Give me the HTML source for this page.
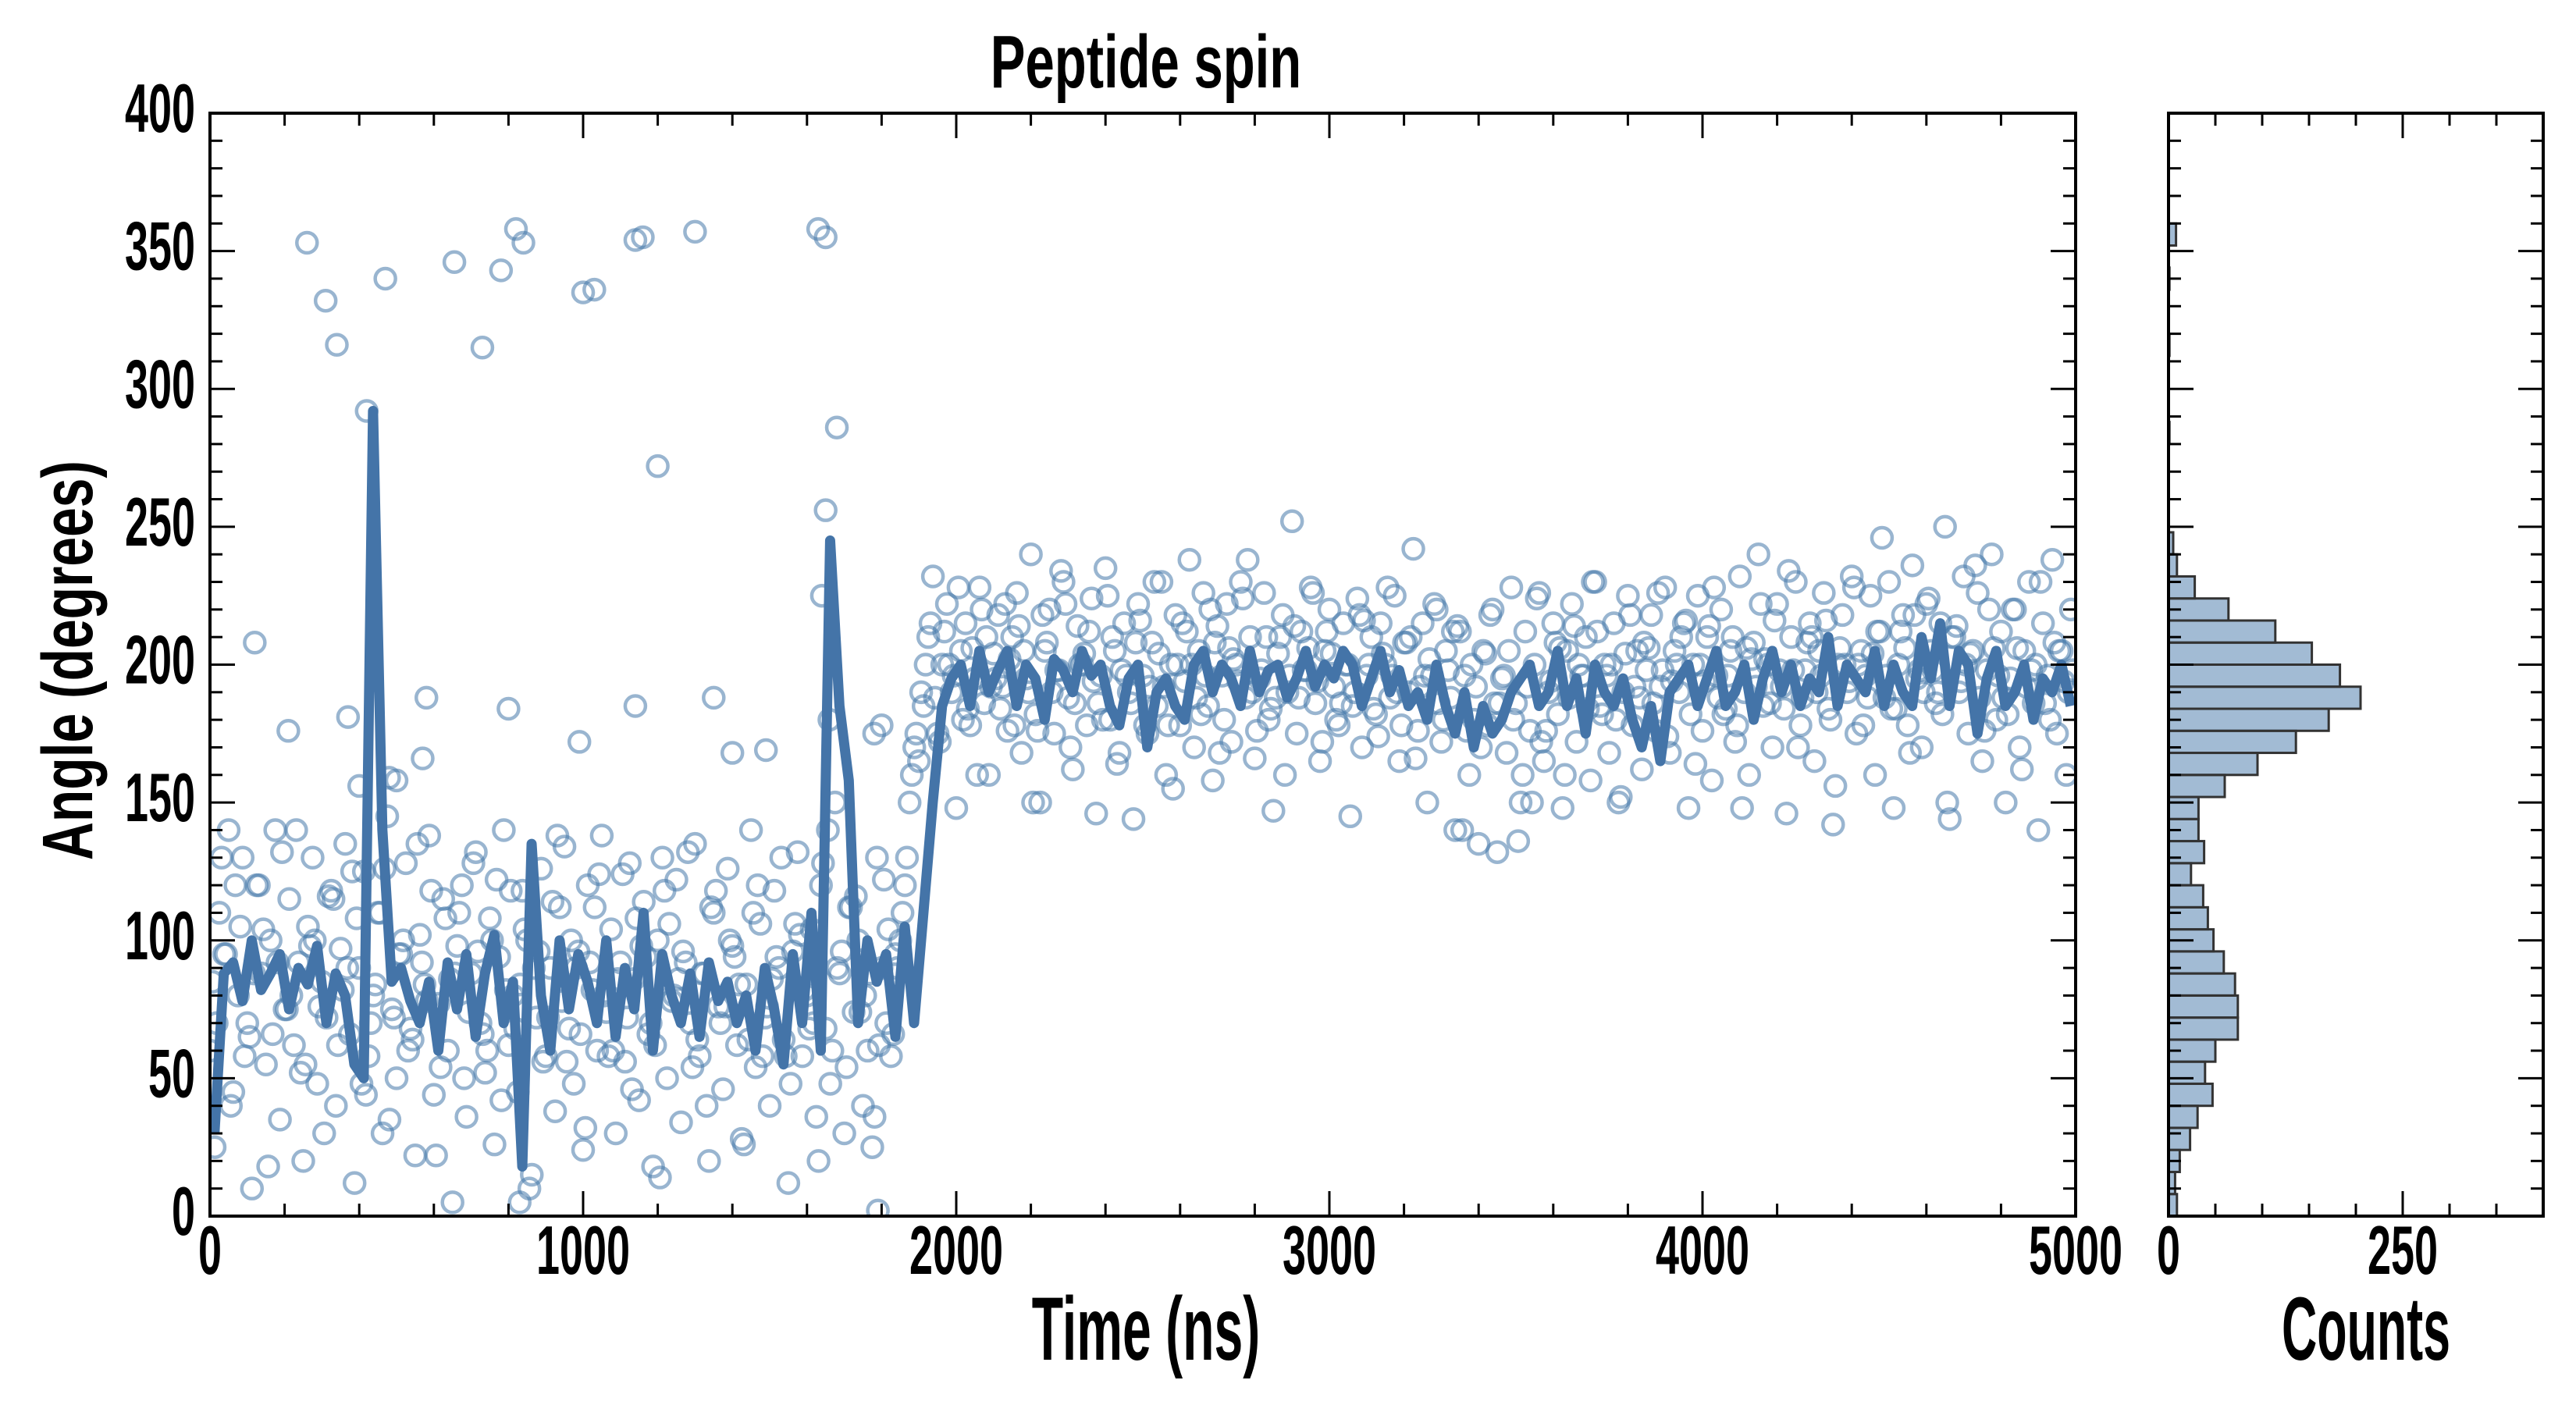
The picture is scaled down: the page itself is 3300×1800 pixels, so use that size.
<!DOCTYPE html>
<html><head><meta charset="utf-8">
<style>
html,body{margin:0;padding:0;background:#fff;}
svg{display:block;}
text{font-family:"Liberation Sans",sans-serif;font-weight:bold;fill:#000;}
</style></head>
<body>
<svg id="chart" width="3300" height="1800" viewBox="0 0 3300 1800" xmlns="http://www.w3.org/2000/svg">
<defs><clipPath id="plotclip"><rect x="269" y="145" width="2390" height="1413"/></clipPath></defs>
<g id="main"></g>
<g id="hist"></g>
</svg>
<script>
// ---- data ----
const lineStep = 25;
const lineValues = [
30,88,92,78,100,82,88,95,75,90,84,98,70,88,80,55,50,292,140,85,
90,78,70,85,60,92,75,95,65,88,102,70,85,18,135,80,60,100,75,95,
85,70,100,65,90,75,110,60,95,80,70,88,65,92,78,85,70,80,60,90,
75,55,95,70,110,60,245,185,158,70,100,85,95,65,105,70,110,150,185,195,
200,185,205,190,198,205,185,200,195,180,202,198,190,205,196,200,185,178,195,200,
170,190,195,185,180,200,205,190,200,195,185,205,190,198,200,188,195,205,192,200,
195,205,200,185,195,205,190,198,185,190,180,200,185,175,190,170,185,175,180,190,
195,200,185,190,205,185,195,175,200,190,185,195,180,170,185,165,190,195,200,185,
195,205,185,190,200,180,195,205,190,200,185,195,190,210,185,200,195,190,205,185,
200,190,185,210,195,215,185,205,200,175,195,205,185,190,200,180,195,190,200,185];
const scatterAStep = 12.5;
const scatterA = [
60,25,110,95,140,45,80,130,70,10,120,88,55,100,140,35,75,115,62,92,
20,105,130,48,85,72,118,40,97,135,66,12,90,125,58,80,110,30,145,75,
50,95,128,68,22,102,84,138,44,77,115,60,5,98,120,36,88,132,70,52,
108,26,94,140,62,80,45,118,100,15,72,126,58,90,38,112,134,68,48,96,
24,120,82,60,138,74,104,30,92,56,128,86,42,114,66,18,100,130,50,78,
122,34,92,70,135,58,88,20,110,76,46,126,98,62,28,84,140,54,106,72,
40,118,90,64,12,96,132,58,80,104,36,120,68,48,150,88,30,112,74,100,
40,60,25,130,90,70,58,95,100,120,150,170,
165,185,210,232,175,200,222,190,148,205,215,178,195,228,186,160,204,218,192,176,
210,226,168,195,240,182,150,205,220,175,198,230,188,162,214,200,178,224,146,196,
235,180,205,168,215,190,144,222,196,175,208,185,230,160,200,218,178,194,238,170,
205,226,185,158,214,196,222,172,200,230,188,210,166,195,226,180,147,204,218,190,
252,175,212,198,228,186,165,205,220,192,178,215,200,185,224,170,196,210,182,215,
200,188,225,165,208,190,242,176,215,150,196,220,172,205,188,140,212,196,160,180,
135,205,178,220,132,195,168,228,186,150,212,176,200,226,165,190,215,182,148,205,
222,172,196,210,158,230,185,200,168,215,150,190,225,178,205,162,198,218,176,192,
228,168,205,190,215,148,200,225,176,210,158,196,220,184,205,172,232,190,160,208,
240,185,200,170,222,192,146,210,230,178,198,215,165,205,226,184,142,200,218,190,
232,175,205,196,225,160,212,188,230,148,200,218,178,236,195,170,222,205,186,215,
250,144,210,190,232,175,205,226,165,198,240,180,212,150,195,220,170,205,230,186,
140,215,196,238,175,205,160,220];
const scatterBStep = 25;
const scatterBOffset = 6;
const scatterB = [
85,130,40,105,65,120,18,92,75,140,55,100,30,115,82,125,48,70,110,35,
95,60,135,78,22,108,88,50,128,66,100,42,118,84,10,96,72,138,56,90,
32,112,80,60,124,46,98,70,14,106,86,132,64,40,118,76,94,26,110,58,
86,130,48,102,68,20,140,90,54,116,80,36,122,66,110,160,
190,215,172,200,228,184,160,210,195,222,178,205,150,218,190,234,170,200,212,186,
225,164,196,208,178,230,192,155,215,200,182,220,168,206,194,238,176,210,188,160,
214,198,226,172,204,186,145,218,200,174,228,190,208,166,196,222,180,212,140,200,
170,218,186,205,136,192,224,176,208,160,214,196,230,182,200,152,218,188,206,226,
174,200,216,164,194,228,182,210,148,202,222,186,198,234,170,208,190,216,156,200,
228,178,204,246,184,212,168,198,224,190,150,214,200,236,176,206,188,220,162,198,
230,180,205,190];
const scatterCStep = 25;
const scatterCOffset = 18;
const scatterC = [
70,95,120,58,88,104,66,132,80,52,98,76,116,62,90,108,44,84,126,72,
100,64,92,118,54,86,110,74,96,60,122,82,68,104,90,56,114,78,100,66,
92,124,58,86,72,108,94,62,118,80,96,54,88,112,70,100,84,64,120,76,
94,58,106,82,70,128,60,96,112,74,88,62,104,90,130,175,
200,188,212,196,180,206,220,192,184,202,214,190,176,208,198,222,186,204,194,180,
210,198,186,216,192,204,178,200,212,188,196,208,180,202,224,190,198,184,210,196,
188,206,194,212,180,200,190,216,184,204,196,178,210,192,202,186,198,214,176,192,
204,186,196,180,160,150,172,194,206,188,200,184,212,196,180,204,192,208,186,198,
194,210,182,200,214,188,196,178,206,192,202,216,184,198,188,210,196,180,206,194,
200,188,212,196,184,206,218,190,198,182,210,194,204,188,220,196,182,206,192,200,
186,208,194,198];
const outlierTimes = [260,310,340,470,655,730,780,820,840,1000,1030,1140,1160,1300,1630,1650,1200,1680,1650,1640,420,120,210,370,580,570,800,990,1140,1350,1400,1490,1660,1780,1800,400,480,500,830,1790];
const outlierValues = [353,332,316,340,346,315,343,358,353,335,336,354,355,357,358,355,272,286,256,225,292,208,176,181,188,166,184,172,185,188,168,169,180,175,178,156,159,158,5,2];
const histBinWidth = 8;
const histCounts = [9,7,12,23,31,47,39,50,74,74,71,59,48,42,37,24,38,32,32,60,95,136,171,205,183,153,114,64,28,9,5,0,0,0,0,1,0,0,0,1,0,0,1,0,8];
const xTicks = [0,1000,2000,3000,4000,5000];
const yTicks = [0,50,100,150,200,250,300,350,400];
const countTicks = [0,250];

// ---- scales ----
const PL=269, PR=2659, PT=145, PB=1558;
const HL=2778, HR=3258;
const xS = t => PL + (t/5000)*(PR-PL);
const yS = v => PB - (v/400)*(PB-PT);
const cS = c => HL + (c/400)*(HR-HL);
const NS="http://www.w3.org/2000/svg";
function mk(tag, attrs, parent){const e=document.createElementNS(NS,tag);for(const k in attrs)e.setAttribute(k,attrs[k]);parent.appendChild(e);return e;}
const main=document.getElementById('main'), hist=document.getElementById('hist');

// scatter
const sg=mk('g',{'clip-path':'url(#plotclip)'},main);


function dot(t,v){
  const c=mk('circle',{cx:xS(t),cy:yS(v),r:13,fill:'none',stroke:'rgba(70,120,170,0.55)','stroke-width':4.5},sg);
  
  
}
scatterA.forEach((v,i)=>dot(i*scatterAStep,v));
scatterB.forEach((v,i)=>dot(i*scatterBStep+scatterBOffset,v));
scatterC.forEach((v,i)=>dot(i*scatterCStep+scatterCOffset,v));
outlierValues.forEach((v,i)=>dot(outlierTimes[i],v));

// line
const pts=lineValues.map((v,i)=>xS(i*lineStep+12)+','+yS(v)).join(' ');
const pl=mk('polyline',{points:pts,fill:'none',stroke:'#4474a8','stroke-width':13,'stroke-linejoin':'round'},main);



// main ticks
const tg=mk('g',{stroke:'#000','stroke-width':3},main);
for(let t=0;t<=5000;t+=200){const L=(t%1000===0)?32:16;const x=xS(t);
  mk('line',{x1:x,y1:PB,x2:x,y2:PB-L},tg);mk('line',{x1:x,y1:PT,x2:x,y2:PT+L},tg);}
for(let v=0;v<=400;v+=10){const L=(v%50===0)?32:16;const y=yS(v);
  mk('line',{x1:PL,y1:y,x2:PL+L,y2:y},tg);mk('line',{x1:PR,y1:y,x2:PR-L,y2:y},tg);}
const fr=mk('rect',{x:PL,y:PT,width:PR-PL,height:PB-PT,fill:'none',stroke:'#000','stroke-width':4},main);



function lbl(str,x,y,anchor,perChar,size,parent,name){
  const t=mk('text',{x:x,y:y,'text-anchor':anchor,'font-size':size,textLength:str.length*perChar,lengthAdjust:'spacingAndGlyphs'},parent);
  t.textContent=str;
  
  
  return t;
}
xTicks.forEach(t=>lbl(String(t),xS(t),1632,'middle',30,88,main,'x-tick-label'));
yTicks.forEach(v=>lbl(String(v),250,yS(v)+24,'end',30,88,main,'y-tick-label'));
lbl('Time (ns)',1468,1742,'middle',32.5,115,main,'x-axis-title');
lbl('Peptide spin',1468,112,'middle',33.2,96,main,'chart-title');
const yt=mk('text',{x:0,y:0,'text-anchor':'middle','font-size':92,textLength:512,lengthAdjust:'spacingAndGlyphs',transform:'translate(118,846) rotate(-90)'},main);
yt.textContent='Angle (degrees)';



// histogram
histCounts.forEach((c,i)=>{
  if(c<=0)return;
  const y1=yS((i+1)*histBinWidth), y0=yS(i*histBinWidth);
  const r=mk('rect',{x:HL,y:y1,width:cS(c)-HL,height:y0-y1,fill:'rgba(70,120,170,0.5)',stroke:'#333','stroke-width':3},hist);
  
  
});
const hg=mk('g',{stroke:'#000','stroke-width':3},hist);
for(let c=0;c<=400;c+=50){const L=(c%250===0)?32:16;const x=cS(c);
  mk('line',{x1:x,y1:PB,x2:x,y2:PB-L},hg);mk('line',{x1:x,y1:PT,x2:x,y2:PT+L},hg);}
for(let v=0;v<=400;v+=10){const L=(v%50===0)?32:16;const y=yS(v);
  mk('line',{x1:HL,y1:y,x2:HL+L,y2:y},hg);mk('line',{x1:HR,y1:y,x2:HR-L,y2:y},hg);}
const hf=mk('rect',{x:HL,y:PT,width:HR-HL,height:PB-PT,fill:'none',stroke:'#000','stroke-width':4},hist);


countTicks.forEach(c=>lbl(String(c),cS(c),1632,'middle',30,88,hist,'count-tick-label'));
lbl('Counts',3031,1742,'middle',36,115,hist,'histogram-x-title');
</script>
</body></html>
